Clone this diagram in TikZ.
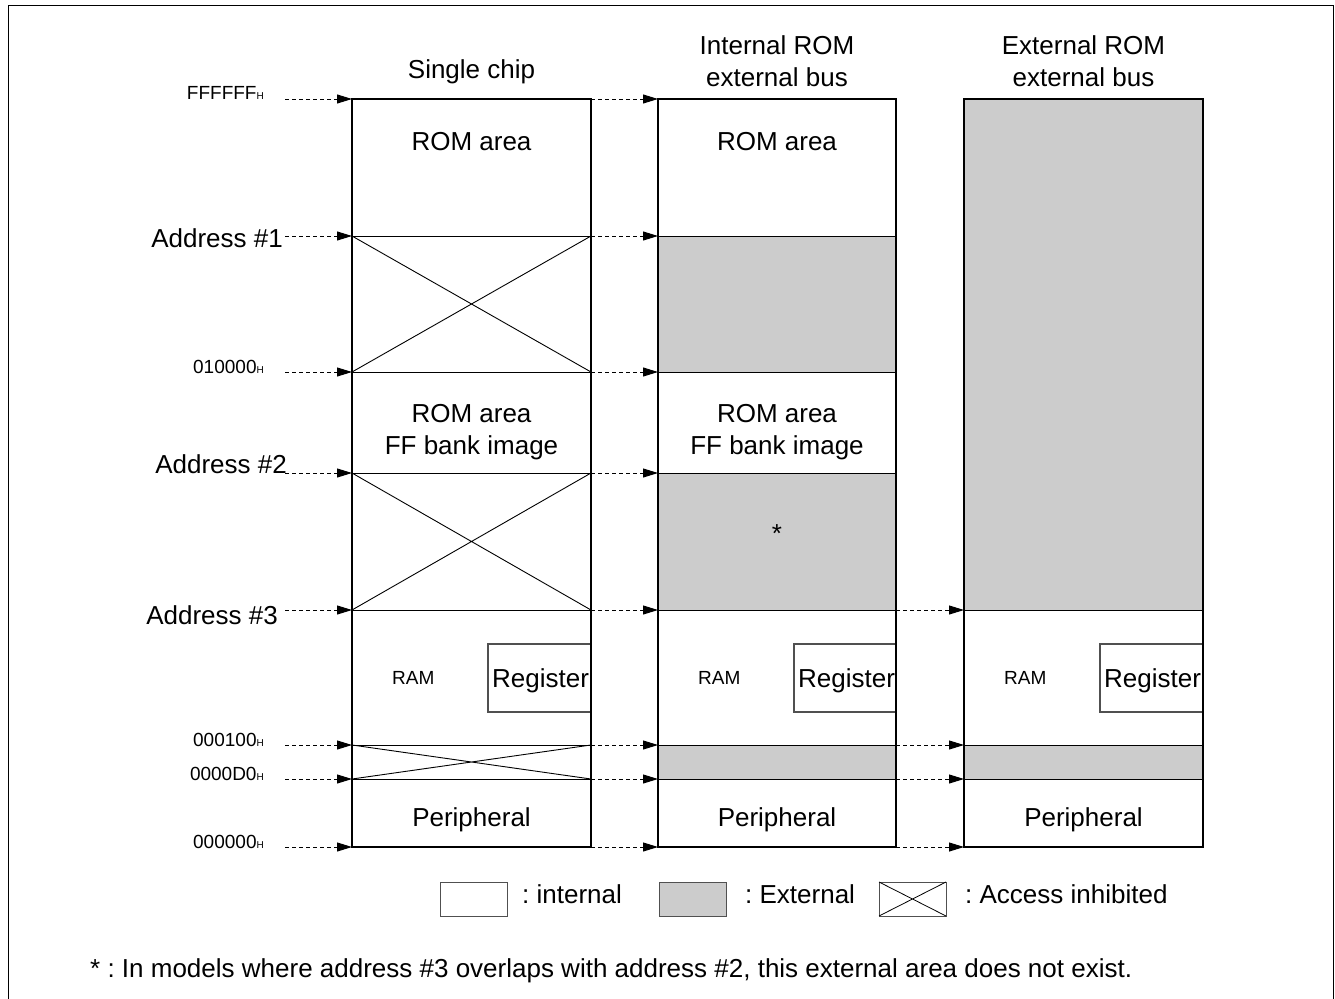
\documentclass[tikz,border=0pt]{standalone}
\usepackage{fontspec}
\setmainfont{Liberation Sans}
\usetikzlibrary{arrows.meta}
\definecolor{extgray}{HTML}{CCCCCC}
\definecolor{edgegray}{HTML}{505050}
\newcommand\hexaddr[1]{{\fontsize{19}{20}\selectfont #1}{\fontsize{10}{10}\selectfont H}}
\frenchspacing
\begin{document}
\begin{tikzpicture}[x=1pt,y=-1pt,
  big/.style={font=\fontsize{26}{30}\selectfont, inner sep=0pt},
  small/.style={font=\fontsize{19}{22}\selectfont, inner sep=0pt},
  colframe/.style={draw=black, line width=2pt},
  rowline/.style={draw=black, line width=1pt},
  xline/.style={draw=black, line width=0.9pt},
  extfill/.style={fill=extgray},
  regbox/.style={draw=edgegray, line width=1.2pt},
  darr/.style={draw=black, line width=1pt, dash pattern=on 4pt off 3pt,
    -{Triangle[length=15pt,width=9pt]}},
  legbox/.style={draw=edgegray, line width=1pt}]
\useasboundingbox (0,0) rectangle (1335,998);
% outer frame (open at the bottom edge of the page)
\draw[line width=1.3pt] (8.5,1010) -- (8.5,5.5) -- (1333.5,5.5) -- (1333.5,1010);

% row coordinates: s = label end, a/b = column 1 edges, c/d = column 2, e/f = column 3
\foreach \n/\y in {0/99,1/236,2/372,3/473,4/610,5/745,6/779,7/847} {
  \coordinate (s\n) at (285,\y);
  \coordinate (a\n) at (352,\y);
  \coordinate (b\n) at (591,\y);
  \coordinate (c\n) at (658,\y);
  \coordinate (d\n) at (896,\y);
  \coordinate (e\n) at (964,\y);
  \coordinate (f\n) at (1203,\y);
}

% external (grey) areas
\fill[extfill] (c1) rectangle (d2);
\fill[extfill] (c3) rectangle (d4);
\fill[extfill] (c5) rectangle (d6);
\fill[extfill] (e0) rectangle (f4);
\fill[extfill] (e5) rectangle (f6);

% row boundaries
\foreach \n in {1,...,6} {
  \draw[rowline] (a\n) -- (b\n);
  \draw[rowline] (c\n) -- (d\n);
}
\foreach \n in {4,5,6} \draw[rowline] (e\n) -- (f\n);

% access-inhibited areas in single chip mode
\draw[xline] (a1) -- (b2) (a2) -- (b1);
\draw[xline] (a3) -- (b4) (a4) -- (b3);
\draw[xline] (a5) -- (b6) (a6) -- (b5);

% register blocks inside the RAM area
\foreach \cl/\cr/\nm in {352/591/1,658/896/2,964/1203/3} {
  \draw[regbox] (\cl+136,644) rectangle (\cr,712);
  \begin{scope}
    \clip (\cl+136,644) rectangle (\cr-1,712);
    \node[big, anchor=base west] (reg\nm) at (\cl+140,687) {Register};
  \end{scope}
  \node[small, anchor=base west] (ram\nm) at (\cl+40,684) {RAM};
}

% column frames
\draw[colframe] (a0) rectangle (b7);
\draw[colframe] (c0) rectangle (d7);
\draw[colframe] (e0) rectangle (f7);

% address arrows
\foreach \n in {0,...,7} {
  \draw[darr] (s\n) -- (a\n);
  \draw[darr] (b\n) -- (c\n);
}
\foreach \n in {4,...,7} \draw[darr] (d\n) -- (e\n);

% column titles
\node[big, anchor=base] (t1) at (471.5,78) {Single chip};
\node[big, anchor=base] (t2a) at (777,55) {Internal ROM};
\node[big, anchor=base] (t2b) at (777,86) {external bus};
\node[big, anchor=base] (t3a) at (1083.5,55) {External ROM};
\node[big, anchor=base] (t3b) at (1083.5,86) {external bus};

% area names
\node[big, anchor=base] (rom1) at (471.5,150) {ROM area};
\node[big, anchor=base] (rom2) at (777,150) {ROM area};
\node[big, anchor=base] (ffa1) at (471.5,422) {ROM area};
\node[big, anchor=base] (ffb1) at (471.5,454) {FF bank image};
\node[big, anchor=base] (ffa2) at (777,422) {ROM area};
\node[big, anchor=base] (ffb2) at (777,454) {FF bank image};
\node[big, anchor=base] (star) at (777,542) {*};
\node[big, anchor=base] (per1) at (471.5,826) {Peripheral};
\node[big, anchor=base] (per2) at (777,826) {Peripheral};
\node[big, anchor=base] (per3) at (1083.5,826) {Peripheral};

% address labels
\node[inner sep=0pt, anchor=base east] (h0) at (264,99) {\hexaddr{FFFFFF}};
\node[big, anchor=base east] (adr1) at (283,247) {Address \#1};
\node[inner sep=0pt, anchor=base east] (h2) at (264,373) {\hexaddr{010000}};
\node[big, anchor=base east] (adr2) at (287,473) {Address \#2};
\node[big, anchor=base east] (adr3) at (278,624) {Address \#3};
\node[inner sep=0pt, anchor=base east] (h5) at (264,746) {\hexaddr{000100}};
\node[inner sep=0pt, anchor=base east] (h6) at (264,780) {\hexaddr{0000D0}};
\node[inner sep=0pt, anchor=base east] (h7) at (264,848) {\hexaddr{000000}};

% legend
\draw[legbox] (440,882) rectangle (507,916);
\node[big, anchor=base west] (lg1) at (522,903) {: internal};
\draw[legbox, fill=extgray] (659,882) rectangle (726,916);
\node[big, anchor=base west] (lg2) at (745,903) {: External};
\draw[legbox] (879,882) rectangle (946,916);
\draw[line width=0.8pt] (879,882) -- (946,916) (879,916) -- (946,882);
\node[big, anchor=base west] (lg3) at (965,903) {: Access inhibited};

% footnote
\node[big, anchor=base west] (note) at (90,977)
  {* : In models where address \#3 overlaps with address \#2, this external area does not exist.};
\end{tikzpicture}
\end{document}
